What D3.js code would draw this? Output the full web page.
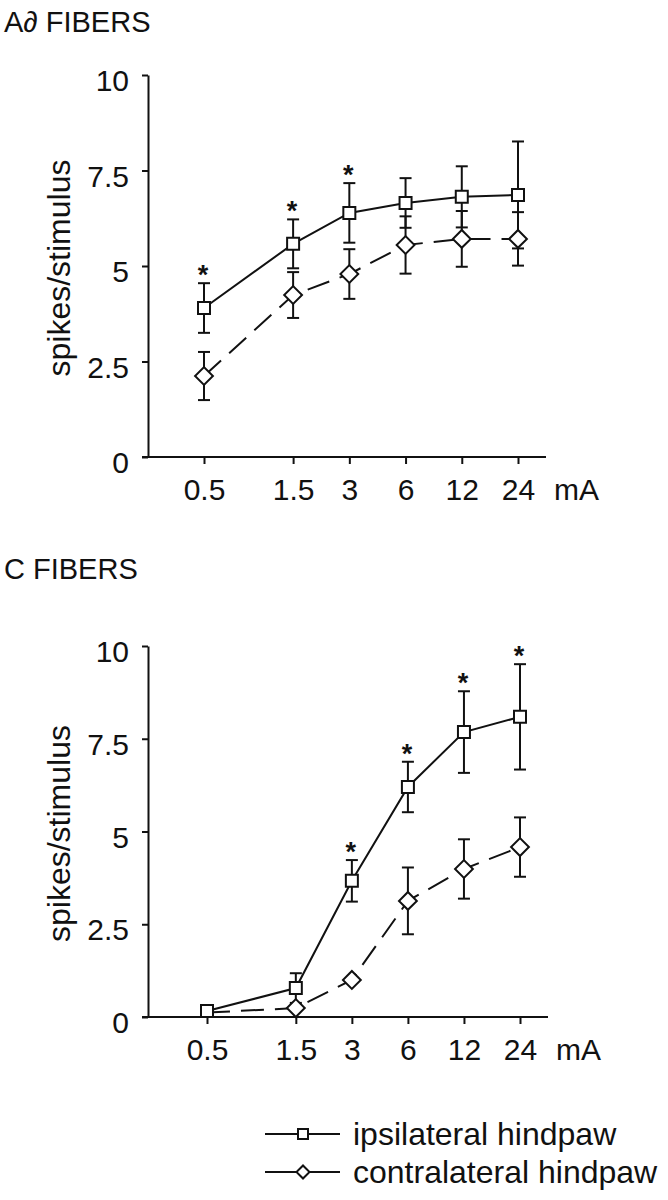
<!DOCTYPE html>
<html>
<head>
<meta charset="utf-8">
<script src="https://cdn.jsdelivr.net/npm/d3@7"></script>
<style>
    body { margin: 0; background: #fff; }
    text { font-family: "Liberation Sans", Arial, Helvetica, sans-serif; fill: #111; }
</style>
</head>
<body>
<div id="chart"></div>
<script>
// stimulus intensities (mA)
var doses = [0.5, 1.5, 3, 6, 12, 24];
var yTicks = [0, 2.5, 5, 7.5, 10];
var seriesNames = ["ipsilateral hindpaw", "contralateral hindpaw"];

// A-delta fibers
var adIpsiMean = [3.9, 5.58, 6.39, 6.65, 6.81, 6.86];
var adIpsiErr = [0.65, 0.64, 0.78, 0.65, 0.8, 1.4];
var adContraMean = [2.12, 4.24, 4.79, 5.55, 5.71, 5.71];
var adContraErr = [0.63, 0.6, 0.65, 0.75, 0.73, 0.7];
var adStars = [0.5, 1.5, 3];

// C fibers
var cIpsiMean = [0.16, 0.78, 3.67, 6.2, 7.68, 8.09];
var cIpsiErr = [0, 0.4, 0.56, 0.68, 1.1, 1.42];
var cContraMean = [0.12, 0.24, 1.0, 3.13, 3.99, 4.58];
var cContraErr = [0, 0, 0, 0.9, 0.8, 0.8];
var cStars = [3, 6, 12, 24];

var W = 668, H = 1200;
var svg = d3.select("#chart").append("svg")
    .attr("width", W)
    .attr("height", H);

function drawPanel(p) {
    var x = d3.scaleLog().base(2).domain([0.5, 24]).range([p.x0, p.x1]);
    var y = d3.scaleLinear().domain([0, 10]).range([p.y0, p.y1]);

    // title
    svg.append("text")
        .attr("x", 4)
        .attr("y", p.titleY)
        .style("font-size", "29px")
        .text(p.title);

    // y axis
    var gy = svg.append("g")
        .attr("transform", "translate(" + p.ax + ",0)")
        .call(d3.axisLeft(y).tickValues(yTicks).tickSize(6).tickSizeOuter(0).tickPadding(13)
            .tickFormat(function(d) { return d; }));
    gy.selectAll("path, line").attr("stroke", "#111").attr("stroke-width", 2);
    gy.selectAll("text").style("font-size", "30px").attr("dy", "0.52em");

    // x axis
    var gx = svg.append("g")
        .attr("transform", "translate(0," + p.y0 + ")")
        .call(d3.axisBottom(x).tickValues(doses).tickSize(7).tickSizeOuter(0).tickPadding(15)
            .tickFormat(function(d) { return d; }));
    gx.select(".domain").remove();
    gx.selectAll("line").attr("stroke", "#111").attr("stroke-width", 2);
    gx.selectAll("text").style("font-size", "30px");
    svg.append("line")
        .attr("x1", p.ax - 6).attr("x2", x(24) + 28)
        .attr("y1", p.y0).attr("y2", p.y0)
        .attr("stroke", "#111").attr("stroke-width", 2);
    svg.append("text")
        .attr("x", x(24) + 36)
        .attr("y", p.y0 + 22)
        .attr("dy", "0.71em")
        .style("font-size", "30px")
        .text("mA");

    // axis label
    svg.append("text")
        .attr("transform", "translate(" + 70 + "," + ((p.y0 + p.y1) / 2 + 2) + ") rotate(-90)")
        .attr("text-anchor", "middle")
        .style("font-size", "32px")
        .text("spikes/stimulus");

    var series = [
        { mean: p.contra, err: p.contraErr, dash: "23,11", shape: "diamond" },
        { mean: p.ipsi, err: p.ipsiErr, dash: null, shape: "square" }
    ];

    // error bars
    series.forEach(function(s) {
        doses.forEach(function(d, i) {
            if (!s.err[i]) return;
            var cx = x(d), top = y(s.mean[i] + s.err[i]), bot = y(s.mean[i] - s.err[i]);
            var g = svg.append("g").attr("stroke", "#111").attr("stroke-width", 2);
            g.append("line").attr("x1", cx).attr("x2", cx).attr("y1", top).attr("y2", bot);
            g.append("line").attr("x1", cx - 6).attr("x2", cx + 6).attr("y1", top).attr("y2", top);
            g.append("line").attr("x1", cx - 6).attr("x2", cx + 6).attr("y1", bot).attr("y2", bot);
        });
    });

    // lines
    var line = d3.line()
        .x(function(d, i) { return x(doses[i]); })
        .y(function(d) { return y(d); });
    series.forEach(function(s) {
        svg.append("path")
            .datum(s.mean)
            .attr("d", line)
            .attr("fill", "none")
            .attr("stroke", "#111")
            .attr("stroke-width", 2)
            .attr("stroke-dasharray", s.dash);
    });

    // markers (contralateral first so the squares sit on top;
    // a diamond hidden under a square in the original is left out)
    series.forEach(function(s) {
        var pts = s.mean.map(function(d, i) { return { v: d, i: i }; })
            .filter(function(d) {
                return s.shape != "diamond" || Math.abs(y(p.ipsi[d.i]) - y(d.v)) > 8;
            });
        svg.append("g").selectAll("path")
            .data(pts)
            .enter().append("path")
            .attr("transform", function(d) {
                return "translate(" + x(doses[d.i]) + "," + y(d.v) + ")" + (s.shape == "diamond" ? " rotate(45)" : "");
            })
            .attr("d", s.shape == "diamond" ? "M-6.3,-6.3H6.3V6.3H-6.3Z" : "M-6,-6H6V6H-6Z")
            .attr("fill", "#fff")
            .attr("stroke", "#111")
            .attr("stroke-width", 2);
    });

    // significance marks
    svg.append("g").selectAll("text")
        .data(p.stars)
        .enter().append("text")
        .attr("x", function(d) { return x(d) - 1; })
        .attr("y", function(d) {
            var i = doses.indexOf(d);
            return y(p.ipsi[i] + p.ipsiErr[i]) + 1;
        })
        .attr("text-anchor", "middle")
        .style("font-size", "27px")
        .style("font-weight", "bold")
        .text("*");
}

drawPanel({
    title: "A\u2202 FIBERS", titleY: 32,
    ax: 148, x0: 204, x1: 518, y0: 457, y1: 75,
    ipsi: adIpsiMean, ipsiErr: adIpsiErr,
    contra: adContraMean, contraErr: adContraErr,
    stars: adStars
});

drawPanel({
    title: "C FIBERS", titleY: 579,
    ax: 148, x0: 207, x1: 520, y0: 1017, y1: 646,
    ipsi: cIpsiMean, ipsiErr: cIpsiErr,
    contra: cContraMean, contraErr: cContraErr,
    stars: cStars
});

// legend
var legend = svg.append("g");
seriesNames.forEach(function(name, i) {
    var ly = 1134 + i * 38;
    var g = legend.append("g").attr("transform", "translate(0," + ly + ")");
    g.append("line").attr("x1", 265).attr("x2", 340).attr("y1", 0).attr("y2", 0)
        .attr("stroke", "#111").attr("stroke-width", 2);
    g.append("path")
        .attr("transform", "translate(303,0)" + (i == 1 ? " rotate(45)" : ""))
        .attr("d", i == 1 ? "M-4.6,-4.6H4.6V4.6H-4.6Z" : "M-5,-5H5V5H-5Z")
        .attr("fill", "#fff").attr("stroke", "#111").attr("stroke-width", 2);
    g.append("text")
        .attr("x", 353).attr("y", 0).attr("dy", "0.35em")
        .style("font-size", "32px")
        .text(name);
});
</script>
</body>
</html>
